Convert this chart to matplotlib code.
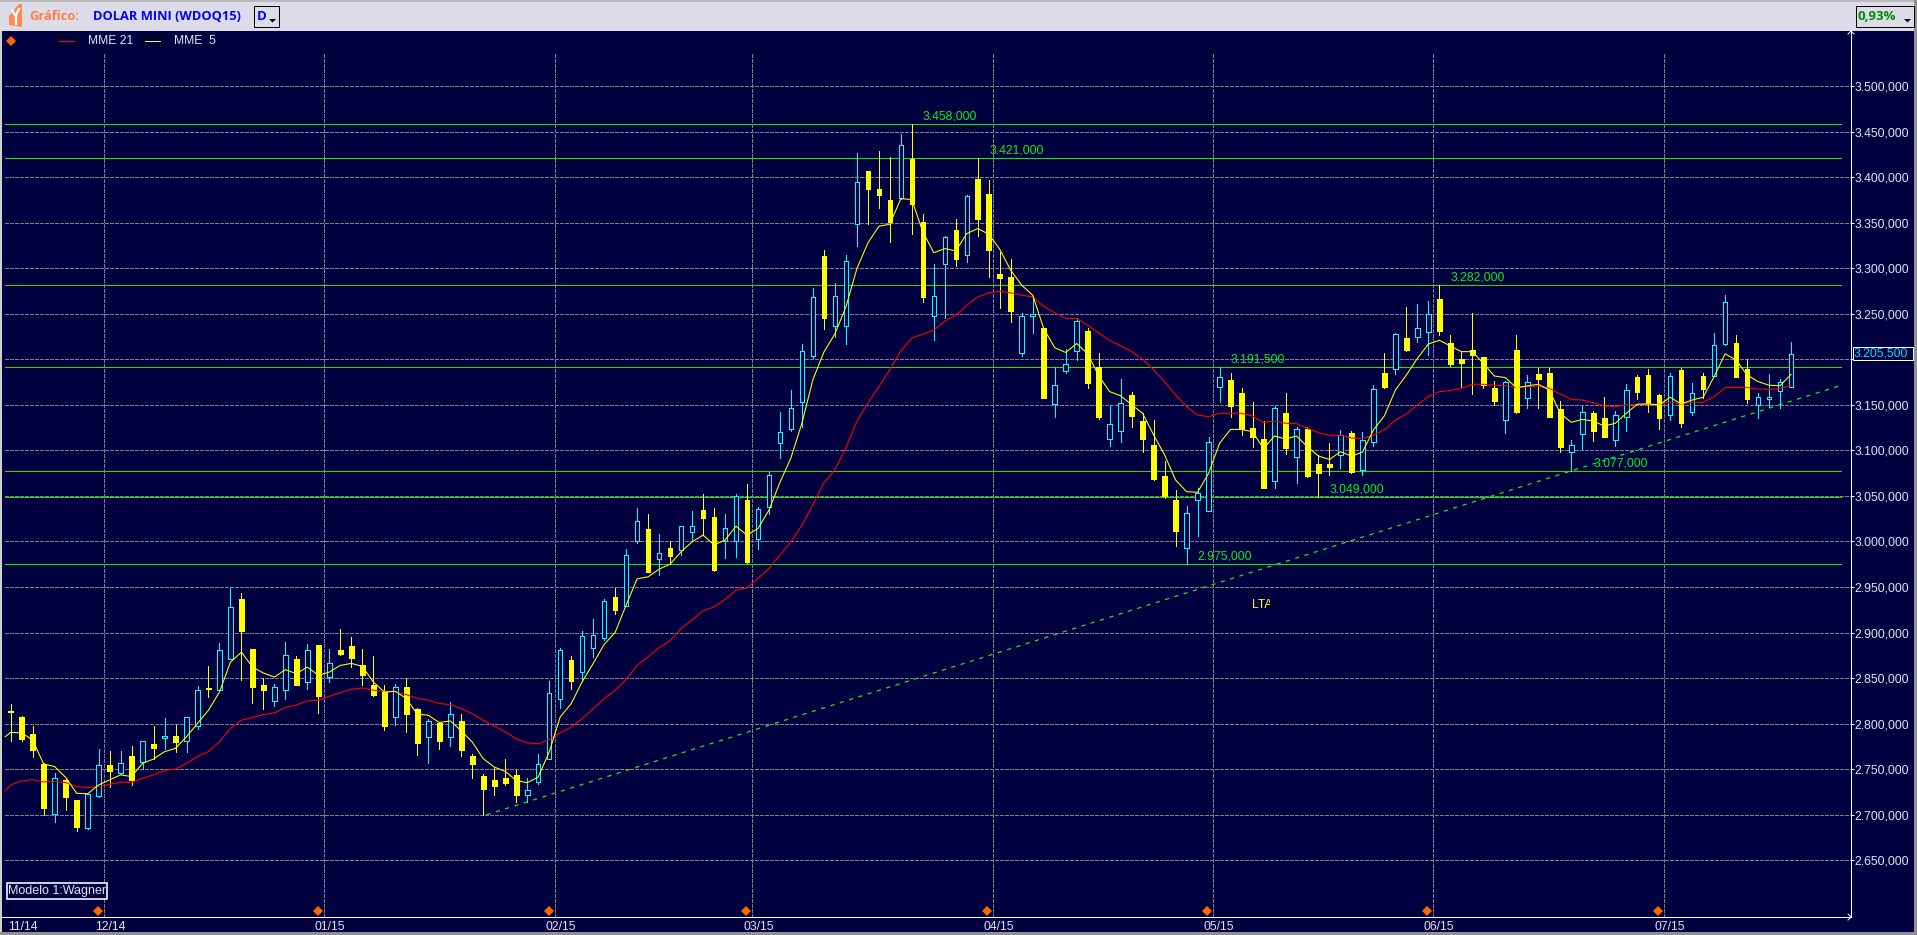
import numpy as np
import matplotlib
matplotlib.use('Agg')
import matplotlib.pyplot as plt
from matplotlib.patches import Rectangle
from matplotlib.transforms import Bbox, TransformedBbox

# Daily candles, prices in thousands
opens = [2813.5, 2807, 2789, 2756, 2701, 2738, 2716, 2686, 2721, 2755,
         2746, 2764.5, 2758, 2777.5, 2784.5, 2787, 2781, 2798, 2839.5, 2837,
         2871, 2937, 2882.5, 2843, 2825, 2837.5, 2871.5, 2846, 2886, 2851,
         2880.5, 2885, 2864, 2842, 2835, 2807, 2840.5, 2816.5, 2785, 2801,
         2785.5, 2803.5, 2764, 2742.2, 2737.8, 2740, 2743.3, 2721.7, 2736, 2761.2,
         2827, 2870.3, 2857, 2883.5, 2894, 2939, 2929.7, 3000.7, 3013.5, 2981,
         2992.7, 2990.9, 3010.6, 3034.3, 3026.6, 3000, 3000, 3045.2, 3002.2, 3038.3,
         3108.2, 3123.6, 3153.3, 3203.7, 3313.7, 3236.5, 3236.5, 3348.3, 3406.6, 3386.6,
         3374.9, 3377.5, 3419.8, 3350.5, 3247.4, 3304.2, 3342.1, 3314, 3397.9, 3381.5,
         3294, 3290.8, 3207, 3247.4, 3234, 3151.3, 3187, 3209, 3230.6, 3191.6,
         3112.9, 3121.7, 3160.8, 3132.3, 3106, 3071.9, 3045.5, 2993.2, 3045.9, 3033.8,
         3170, 3177, 3162.7, 3124.6, 3112.5, 3066.8, 3141, 3093, 3123, 3085,
         3085, 3094.6, 3118.7, 3078.5, 3109.6, 3185, 3189, 3223.4, 3224.9, 3230.4,
         3265.9, 3217.6, 3200, 3210.2, 3202.2, 3168.5, 3133.8, 3210.2, 3157.9, 3183.9,
         3185, 3145.5, 3098.6, 3117.7, 3141, 3135.6, 3111, 3136.3, 3180.2, 3182.4,
         3160.8, 3139.2, 3188.3, 3142.5, 3181.7, 3182, 3217.2, 3218, 3189.4, 3149.5,
         3156.8, 3164.9, 3169.3]
closes = [2813, 2783, 2771, 2707, 2740, 2720, 2687, 2723, 2755, 2748.5,
          2756.5, 2738, 2781.5, 2773, 2787, 2780, 2807, 2837.5, 2838, 2881,
          2928, 2901.5, 2840, 2837, 2840, 2875.5, 2842.5, 2881, 2830.5, 2867,
          2877, 2872, 2854, 2831, 2798, 2840.5, 2811, 2779, 2803.5, 2781,
          2811, 2771, 2755.7, 2727.9, 2731.2, 2734.5, 2721.3, 2727.5, 2756, 2834,
          2881.3, 2846.5, 2896, 2897, 2934.4, 2925, 2984.7, 3023, 2966.5, 2986.9,
          2984, 3017.5, 3017.5, 3025.5, 2968.7, 3015.3, 3050, 2977.4, 3036, 3073.2,
          3119.9, 3146.7, 3209.5, 3268.5, 3244.8, 3269.6, 3307.9, 3394.2, 3387.3, 3380.8,
          3351.2, 3434.7, 3370.9, 3268.2, 3269.3, 3334.1, 3309.7, 3379, 3354.2, 3320.3,
          3289.7, 3252.5, 3247.8, 3249.2, 3157.9, 3171.5, 3195, 3242.3, 3173.5, 3136.3,
          3128.6, 3151.7, 3137.8, 3112.5, 3068.6, 3049.9, 3011.5, 3030.9, 3052.9, 3108.9,
          3181, 3149, 3123, 3115, 3059, 3146.2, 3103, 3123, 3071.9, 3075.6,
          3081.8, 3117.3, 3076.6, 3111, 3167, 3169.6, 3227.5, 3210.2, 3234, 3249.4,
          3231.5, 3194.9, 3196.3, 3204.8, 3171.8, 3154.3, 3174.7, 3141.8, 3174.7, 3178.4,
          3137, 3104, 3105.6, 3141.8, 3121.7, 3115, 3138.9, 3166, 3164.5, 3151.7,
          3135.6, 3181.5, 3130.5, 3162.7, 3167.8, 3215.4, 3262.6, 3181, 3156.8, 3158.3,
          3158.3, 3175.5, 3205.5]
highs = [2822, 2808, 2798, 2756.5, 2746, 2740, 2716, 2723, 2772, 2770,
         2770, 2775.5, 2781.5, 2797, 2806, 2798.5, 2807, 2841, 2863, 2889,
         2949, 2943, 2882.5, 2850, 2844, 2890, 2874, 2888, 2886, 2882.5,
         2904, 2895, 2881.5, 2874, 2843, 2844, 2850, 2817, 2805, 2801.5,
         2824, 2811, 2767, 2744.4, 2751, 2760.8, 2748.8, 2740.7, 2767, 2846.5,
         2883.4, 2874, 2901.5, 2914.7, 2936.6, 2948.6, 2992.3, 3036.4, 3030.6, 3008.7,
         3000.4, 3017.5, 3033, 3051.7, 3036.4, 3029.9, 3051.7, 3062.7, 3037.9, 3075.8,
         3142.5, 3166.8, 3217.2, 3278.4, 3320.3, 3283.8, 3314.8, 3426, 3406.6, 3428.5,
         3421.6, 3447.8, 3458, 3359.3, 3305, 3335.6, 3353.8, 3380.4, 3421, 3396.8,
         3318.1, 3310.1, 3251, 3269.3, 3234, 3191.6, 3211, 3245.6, 3234.6, 3206.6,
         3149.5, 3178, 3163.8, 3140.7, 3133.4, 3088, 3056.5, 3038.9, 3058.3, 3114.4,
         3191.5, 3184.6, 3168.2, 3153, 3132, 3149, 3162.7, 3125.3, 3125.3, 3094.6,
         3108, 3122.4, 3121.3, 3120.4, 3171.8, 3206.6, 3228.5, 3257, 3260.4, 3264,
         3282, 3226.4, 3208.4, 3250.5, 3202.2, 3176.2, 3175.8, 3226.4, 3182.4, 3190.9,
         3190.9, 3153.9, 3111.4, 3148.8, 3143.6, 3158.6, 3143.3, 3172.6, 3182.4, 3189.4,
         3161.9, 3185, 3190.5, 3173.6, 3184.6, 3228.5, 3270.6, 3226.7, 3200, 3162.7,
         3183.5, 3178.8, 3218.7]
lows = [2781, 2781, 2763, 2700, 2692, 2705, 2682, 2684, 2720, 2731,
        2745, 2733, 2750, 2761, 2772.5, 2769, 2769, 2794.5, 2829, 2836.5,
        2870.5, 2847.5, 2823, 2816, 2819.5, 2827, 2842, 2838, 2812, 2846,
        2875, 2862, 2843, 2830.5, 2793, 2799, 2791, 2766, 2756.5, 2772.5,
        2775, 2765, 2740.3, 2699.4, 2721.3, 2732.3, 2714, 2714, 2733.4, 2760.8,
        2817.6, 2838.4, 2847, 2873, 2892, 2920.6, 2929.3, 2998.5, 2966.5, 2963.2,
        2975.2, 2985, 3001.5, 3007, 2968, 2981.8, 2983.2, 2976.7, 2992, 3030.2,
        3091.5, 3121, 3125.5, 3201.8, 3232.8, 3224.8, 3216.4, 3323.9, 3348.7, 3366.6,
        3328.3, 3376, 3337, 3262.7, 3221.2, 3245.6, 3302, 3307.2, 3334.9, 3290,
        3255.8, 3240.8, 3203.7, 3228.4, 3157.9, 3137, 3184.6, 3199, 3168.5, 3135,
        3105.2, 3109.6, 3126, 3098.6, 3067.9, 3048, 2995.4, 2975, 3006, 3033.8,
        3153, 3136.7, 3117, 3103.3, 3059, 3059, 3096, 3064.6, 3070.8, 3049,
        3073, 3081, 3074.8, 3073, 3104.8, 3168.5, 3184, 3209, 3219, 3204.8,
        3226.7, 3192.7, 3169.3, 3161.9, 3168.5, 3149.9, 3119.5, 3141.4, 3146.9, 3146.9,
        3137, 3098.6, 3077, 3101.5, 3110.3, 3115, 3104.8, 3121.3, 3156.4, 3142.2,
        3123.5, 3133.4, 3126, 3138.9, 3157, 3181.7, 3216, 3181, 3152.4, 3136,
        3148, 3146.2, 3169.3]

# Moving averages: first value sits half a candle before candle 0
mme5 = [2785.7, 2790.4, 2790, 2782, 2755.8, 2752.9, 2741.2, 2723.7, 2723, 2732.8, 2738.3,
        2743.8, 2742, 2756.5, 2761.2, 2769.3, 2772.9, 2785.7, 2800.2, 2814.8, 2834.8,
        2867.6, 2878.6, 2862.2, 2855.6, 2851.2, 2859.3, 2854.9, 2862.2, 2853.1, 2856.7,
        2864, 2866.2, 2862.9, 2845.8, 2834.8, 2835.6, 2827.6, 2810.4, 2809.3, 2801.3,
        2803.1, 2792.2, 2779.9, 2761.6, 2752.4, 2747.7, 2737.8, 2735.2, 2741.4, 2768.9,
        2807.3, 2822, 2846, 2866, 2887, 2900.1, 2930.1, 2959, 2961.2, 2969.6,
        2975.1, 2988.7, 2999.6, 3007, 2996.3, 3001.5, 3016.8, 3007, 3014.3, 3034.4,
        3065, 3091.8, 3130, 3177.8, 3208, 3228, 3257.5, 3299.6, 3327.8, 3346,
        3348.3, 3376.4, 3375.3, 3339.8, 3317, 3321.5, 3319, 3338, 3343.5, 3337.3,
        3320.8, 3297.7, 3281.3, 3270.3, 3233.7, 3212.7, 3207.5, 3217.3, 3206, 3182,
        3164.5, 3160, 3150, 3140.7, 3117, 3095, 3067.5, 3054.7, 3054, 3074.8,
        3107.8, 3123, 3123, 3120.6, 3102, 3115.8, 3112.5, 3115.8, 3104, 3093.8,
        3090, 3098.6, 3093.8, 3098, 3122.4, 3138, 3166.3, 3182.8, 3201, 3216.8,
        3220.9, 3214.6, 3208.4, 3208.4, 3195.6, 3181.7, 3179.9, 3168.9, 3170.7, 3172.6,
        3166.3, 3140.7, 3130.8, 3134, 3132.3, 3126.8, 3129.7, 3140.7, 3150.6, 3151,
        3149.9, 3158.3, 3151, 3155.3, 3158.3, 3181, 3205.9, 3199.3, 3182.8, 3175.5,
        3171.5, 3171, 3183.5]
mme21 = [2726.6, 2732.8, 2737.2, 2738.6, 2736.1, 2736.5, 2735.4, 2731, 2729.9, 2731, 2733.5,
         2735.7, 2735.7, 2740.1, 2743.8, 2748.5, 2750.3, 2756.5, 2763.8, 2769.6, 2780.2,
         2794.8, 2803.9, 2806.8, 2810.1, 2811.9, 2817.7, 2820.6, 2825, 2825.7, 2830.1,
         2834.1, 2837.8, 2839.2, 2836.7, 2835.6, 2834.8, 2831.9, 2827.9, 2825.7, 2822.1,
         2821, 2816.5, 2811, 2803.7, 2797.4, 2790.9, 2783.5, 2779, 2778, 2782.8,
         2790, 2796.3, 2805.5, 2816.5, 2827.5, 2836.6, 2848.5, 2864.2, 2873.4, 2883.6,
         2890.9, 2904.5, 2913.6, 2923.9, 2928.3, 2936.3, 2946.6, 2949.1, 2959.4, 2970.4,
         2985, 2999.6, 3018, 3040.6, 3064.4, 3079, 3102.8, 3132, 3152, 3170,
         3188.7, 3209, 3223.4, 3227.5, 3231.9, 3242, 3248.3, 3259.3, 3268.5, 3272.9,
         3274.7, 3272.9, 3270.3, 3268.5, 3258.2, 3250.9, 3245, 3244.7, 3237.4, 3229,
         3220.5, 3215, 3208.4, 3200, 3188.3, 3175.5, 3160.8, 3148, 3138.9, 3137,
         3140.7, 3140.7, 3140.7, 3137.8, 3130.5, 3132.3, 3129.7, 3129.4, 3124.2, 3119.5,
         3116.6, 3116.6, 3113.6, 3112.9, 3116.9, 3122.4, 3133.4, 3140, 3149.9, 3159,
         3164.5, 3165.6, 3168.2, 3172.6, 3172.6, 3171.5, 3171, 3168.9, 3170, 3170.7,
         3168.2, 3161.9, 3156, 3155.3, 3152.4, 3148.8, 3148, 3149.9, 3150.6, 3150.6,
         3150.6, 3153, 3151, 3152.8, 3152.8, 3159, 3168.9, 3169.3, 3168.9, 3167.4,
         3167, 3167.8, 3171.5]

# Support / resistance levels and where their labels start (candle index)
levels = [3458, 3421, 3282, 3191.5, 3077, 3049, 2975]
level_labels = ['3.458,000', '3.421,000', '3.282,000', '3.191,500', '3.077,000', '3.049,000', '2.975,000']
level_label_x = [83.0, 89.05, 131.0, 111.0, 144.0, 120.0, 108.0]
# LTA trend line
lta_x = [43.3, 166.55]
lta_y = [2700, 3171.4]
# price axis, the 3.200,000 label is hidden behind the last price box
price_ticks = [2650, 2700, 2750, 2800, 2850, 2900, 2950, 3000, 3050, 3100,
               3150, 3200, 3250, 3300, 3350, 3400, 3450, 3500]
price_labels = ['2.650,000', '2.700,000', '2.750,000', '2.800,000', '2.850,000', '2.900,000',
                '2.950,000', '3.000,000', '3.050,000', '3.100,000', '3.150,000', '',
                '3.250,000', '3.300,000', '3.350,000', '3.400,000', '3.450,000', '3.500,000']
last_price = '3.205,500'
# month starts (between candles)
month_pos = [8.5, 28.5, 49.5, 67.5, 89.4, 109.4, 129.4, 150.4]
month_labels = ['12/14', '01/15', '02/15', '03/15', '04/15', '05/15', '06/15', '07/15']

BG = '#000040'
GRID = '#808084'
GREEN = '#00f000'
TEXT = '#e4e4f0'
SANS = 'Liberation Sans'
PX = 0.72  # one pixel in points at dpi 100
THIN = 0.78  # sloped lines are smoothed, so a touch over one pixel

W, H = 1917, 935
fig = plt.figure(figsize=(W / 100, H / 100), dpi=100, facecolor=BG)

# price chart: x in candle number, y in thousands
ax = fig.add_axes([2 / W, (H - 917) / H, 1849 / W, 886 / H], facecolor=BG)
ax.set_xlim((2 - 10.67) / 10.99, (1851 - 10.67) / 10.99)
ax.set_ylim(3500 - (917 - 86) * 1.0977, 3500 - (31 - 86) * 1.0977)

idx = np.arange(len(opens))
opens = np.array(opens)
closes = np.array(closes)
highs = np.array(highs)
lows = np.array(lows)
up = closes >= opens

x_left = (5 - 10.67) / 10.99
ax.hlines(price_ticks, x_left, ax.get_xlim()[1], colors=GRID, lw=PX, linestyles=(0, (3, 2)), zorder=1, antialiased=False)
ax.vlines(month_pos, ax.get_ylim()[0], 3535, colors=GRID, lw=PX, linestyles=(0, (3, 2)), zorder=1, antialiased=False)

ax.hlines(levels, x_left, 166.55, colors=GREEN, lw=PX, zorder=2, antialiased=False)
ax.plot(lta_x, lta_y, color='#10f010', lw=0.9, dashes=(3.4, 4.4), zorder=2)

for xpos, lev, lab in zip(level_label_x, levels, level_labels):
    ax.annotate(lab, (xpos, lev), xytext=(0, 7.5 * PX), textcoords='offset points', va='center', ha='left',
                color='#00f020', fontsize=8.7, family=SANS, zorder=6)

# wicks, then bodies; hollow bodies hide their wick
ax.vlines(idx[up], lows[up], highs[up], colors='#00ffff', lw=PX, zorder=3, antialiased=False)
ax.vlines(idx[~up], lows[~up], highs[~up], colors='#ffff00', lw=PX, zorder=3, antialiased=False)
body_w = 4.6 / 10.99
ax.bar(idx[up], (closes - opens)[up], bottom=opens[up], width=body_w, facecolor=BG, edgecolor='#00ffff',
       linewidth=PX, zorder=4, antialiased=False)
ax.bar(idx[~up], (opens - closes)[~up], bottom=closes[~up], width=body_w, facecolor='#ffff00', edgecolor='#ffff00',
       linewidth=PX, zorder=4, antialiased=False)

ema_x = np.r_[-0.5, idx]
ax.plot(ema_x, mme21, color='#ff0000', lw=THIN, zorder=5)
ax.plot(ema_x, mme5, color='#ffff00', lw=THIN, zorder=5)

for s in ['top', 'left']:
    ax.spines[s].set_visible(False)
for s in ['right', 'bottom']:
    ax.spines[s].set_color('white')
    ax.spines[s].set_linewidth(PX)

ax.yaxis.tick_right()
ax.set_yticks(price_ticks)
ax.set_yticklabels(price_labels, family=SANS, fontsize=8.7, color=TEXT)
ax.tick_params(axis='y', length=2, width=PX, color='white', pad=0.5, direction='out')
ax.set_xticks(month_pos)
ax.set_xticklabels([])
ax.tick_params(axis='x', length=0)

# month labels sit just right of their grid line, diamonds just left of it
for pos, lab in zip(month_pos, month_labels):
    ax.annotate(lab, (pos, ax.get_ylim()[0]), xytext=(6 * PX, -9.5 * PX), textcoords='offset points',
                ha='center', va='center', color=TEXT, fontsize=8.7, family=SANS)
ax.plot(np.array(month_pos) - 6 / 10.99, np.full(len(month_pos), 3500 - (911 - 86) * 1.0977), 'D', color='#ff6600',
        ms=5.2, mew=0, zorder=6, clip_on=False)
ax.annotate('11/14', (0, ax.get_ylim()[0]), xytext=(12 * PX, -9.5 * PX), textcoords='offset points',
            ha='center', va='center', color=TEXT, fontsize=8.7, family=SANS)

# window chrome, drawn in pixels
ui = fig.add_axes([0, 0, 1, 1], facecolor='none')
ui.set_xlim(0, W)
ui.set_ylim(H, 0)
ui.axis('off')
ui.add_patch(Rectangle((0, 0), W, 31, fc='#dcdce8', ec='none'))
ui.add_patch(Rectangle((0, 0), W, 1.5, fc='#b8b8b8', ec='none'))
ui.add_patch(Rectangle((0, 31), 2, H, fc='#d0d0d0', ec='none'))
ui.add_patch(Rectangle((0, 932), W, 3, fc='#909090', ec='none'))
ui.add_patch(Rectangle((1914, 0), 3, H, fc='#909090', ec='none'))

# logo
ui.fill([9, 19, 22, 22, 9], [16, 4, 4, 27, 25], color='#ff8a50', lw=0)
ui.plot([12, 15.5, 19], [10, 16, 9], color='white', lw=1.6)
ui.plot([15.5, 15.5], [16, 24], color='white', lw=1.6)

ui.text(29, 17, 'Gráfico:', color='#ff8040', fontsize=9.3, fontweight='bold', family='Open Sans', va='center')
ui.text(93, 17, 'DOLAR MINI (WDOQ15)', color='#0000ff', fontsize=9.3, fontweight='bold', family='Open Sans', va='center')
ui.add_patch(Rectangle((253.5, 5.5), 25, 21, fc='none', ec='black', lw=PX))
ui.text(256.5, 16.5, 'D', color='#0000ff', fontsize=9.5, fontweight='bold', family='Open Sans', va='center')
ui.fill([269, 276, 272.5], [19, 19, 22.5], color='black', lw=0)
ui.add_patch(Rectangle((1855.5, 5.5), 58, 21, fc='none', ec='black', lw=PX))
ui.text(1858, 16.5, '0,93%', color='#008a00', fontsize=9.5, fontweight='bold', family='Open Sans', va='center')
ui.fill([1904, 1911, 1907.5], [19, 19, 22.5], color='black', lw=0)

# legend
ui.plot([10.7], [40.7], 'D', color='#ff6600', ms=5.2, mew=0)
ui.add_patch(Rectangle((55.5, 36.5), 22, 10, fc='none', ec='black', lw=PX))
ui.plot([59, 74], [41, 41], color='#ff0000', lw=PX, antialiased=False)
ui.text(88, 41.5, 'MME 21', color=TEXT, fontsize=8.7, family=SANS, va='center')
ui.add_patch(Rectangle((141.5, 36.5), 22, 10, fc='none', ec='black', lw=PX))
ui.plot([145, 160], [41, 41], color='#ffff00', lw=PX, antialiased=False)
ui.text(174.5, 41.5, 'MME  5', color=TEXT, fontsize=8.7, family=SANS, va='center')

# model tag
ui.add_patch(Rectangle((7, 882.5), 100, 16.5, fc=BG, ec='white', lw=PX * 1.6))
ui.text(8, 891, 'Modelo 1:Wagner', color=TEXT, fontsize=9, family=SANS, va='center')

# last price box
ui.add_patch(Rectangle((1852.5, 347), 60.5, 13, fc=BG, ec='white', lw=PX))
ui.text(1854, 353.7, last_price, color='#00e0ff', fontsize=8.7, family=SANS, va='center')

# arrow heads on the axes
ui.plot([1848, 1851, 1854], [34, 31, 34], color='white', lw=PX)
ui.plot([1848, 1851, 1848], [914, 917, 920], color='white', lw=PX)

# "LTA" note, its last letter is cut in the original
lta = ui.text(1252, 605.5, 'LTA', color='#ffff00', fontsize=8.7, family=SANS, va='center')
lta.set_clip_on(True)
lta.set_clip_box(TransformedBbox(Bbox([[1250, 595], [1270, 615]]), ui.transData))

fig.savefig('out.png', dpi=100, facecolor=BG)
